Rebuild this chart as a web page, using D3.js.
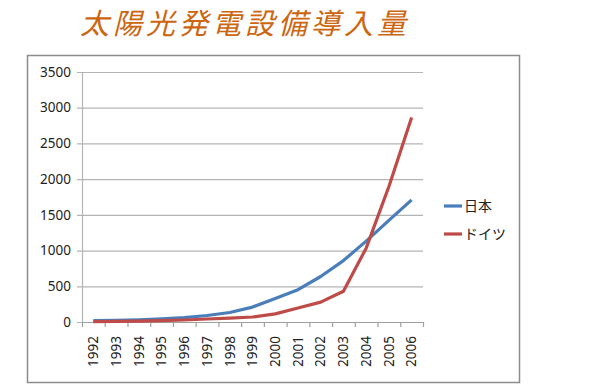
<!DOCTYPE html>
<html>
<head>
<meta charset="utf-8">
<script src="https://cdn.jsdelivr.net/npm/d3@7"></script>
<style>
body { margin: 0; background: #fff; }
svg { display: block; }
</style>
</head>
<body>
<div id="chart"></div>
<script>
// data
var years = ["1992","1993","1994","1995","1996","1997","1998","1999","2000","2001","2002","2003","2004","2005","2006"];
var japan = [19, 24, 31, 43, 60, 91, 133, 209, 330, 453, 637, 860, 1132, 1422, 1709];
var germany = [6, 9, 12, 18, 28, 42, 54, 70, 114, 195, 278, 431, 1034, 1897, 2863];
var yTicks = [0, 500, 1000, 1500, 2000, 2500, 3000, 3500];
var seriesNames = ["日本", "ドイツ"];
var colors = ["#4a7ebb", "#be4b48"];

var svg = d3.select("#chart")
  .append("svg")
    .attr("width", 600)
    .attr("height", 390);

// title
svg.append("text")
  .attr("x", 80)
  .attr("y", 34)
  .attr("font-family", "Noto Sans CJK JP")
  .attr("font-size", 29)
  .attr("font-style", "italic")
  .attr("letter-spacing", 4)
  .attr("fill", "#cc6610")
  .text("太陽光発電設備導入量");

// outer border of the chart area
svg.append("rect")
  .attr("x", 27.5)
  .attr("y", 55.5)
  .attr("width", 492)
  .attr("height", 327)
  .attr("fill", "none")
  .attr("stroke", "#8c8c8c")
  .attr("stroke-width", 1.5);

var margin = {left: 82, top: 72},
    width = 341,
    height = 250;

var g = svg.append("g")
  .attr("transform", "translate(" + margin.left + "," + margin.top + ")");

var x = d3.scaleBand()
  .domain(years)
  .range([0, width]);

var y = d3.scaleLinear()
  .domain([0, 3500])
  .range([height, 0]);

// gridlines
g.selectAll("line.grid")
  .data(yTicks)
  .enter().append("line")
    .attr("class", "grid")
    .attr("x1", -5)
    .attr("x2", width)
    .attr("y1", function(d){ return y(d) + 0.5; })
    .attr("y2", function(d){ return y(d) + 0.5; })
    .attr("stroke", "#b4b4b4")
    .attr("stroke-width", 1.2);

// y axis line
g.append("line")
  .attr("x1", 0.5).attr("x2", 0.5)
  .attr("y1", 0).attr("y2", height)
  .attr("stroke", "#b4b4b4")
  .attr("stroke-width", 1.2);

// y labels
g.selectAll("text.ylab")
  .data(yTicks)
  .enter().append("text")
    .attr("class", "ylab")
    .attr("x", -11)
    .attr("y", function(d){ return y(d); })
    .attr("dy", "0.35em")
    .attr("text-anchor", "end")
    .attr("font-family", "Noto Sans")
    .attr("font-size", 13.5)
    .attr("fill", "#222")
    .text(function(d){ return d; });

// x axis with tick marks at band edges
var xAxis = g.append("g")
  .attr("transform", "translate(0," + height + ")");
xAxis.append("line")
  .attr("x1", 0).attr("x2", width)
  .attr("y1", 0.5).attr("y2", 0.5)
  .attr("stroke", "#a0a0a0")
  .attr("stroke-width", 1.2);
var edges = years.map(function(d){ return x(d); }).concat([width]);
xAxis.selectAll("line.tick")
  .data(edges)
  .enter().append("line")
    .attr("class", "tick")
    .attr("x1", function(d){ return d + 0.5; })
    .attr("x2", function(d){ return d + 0.5; })
    .attr("y1", 0).attr("y2", 5)
    .attr("stroke", "#a0a0a0")
    .attr("stroke-width", 1.2);
xAxis.selectAll("text")
  .data(years)
  .enter().append("text")
    .attr("transform", function(d){
      return "translate(" + (x(d) + x.bandwidth() / 2) + ",14) rotate(-90)";
    })
    .attr("text-anchor", "end")
    .attr("dy", "0.35em")
    .attr("font-family", "Noto Sans")
    .attr("font-size", 13.5)
    .attr("fill", "#222")
    .text(function(d){ return d; });

// lines
var line = d3.line()
  .x(function(d, i){ return x(years[i]) + x.bandwidth() / 2; })
  .y(function(d){ return y(d); });

[japan, germany].forEach(function(s, i){
  g.append("path")
    .datum(s)
    .attr("fill", "none")
    .attr("stroke", colors[i])
    .attr("stroke-width", 3.2)
    .attr("stroke-linejoin", "round")
    .attr("d", line);
});

// legend
var legend = svg.selectAll("g.legend")
  .data(seriesNames)
  .enter().append("g")
    .attr("class", "legend")
    .attr("transform", function(d, i){ return "translate(444," + (206 + i * 28) + ")"; });
legend.append("line")
  .attr("x1", 0).attr("x2", 18)
  .attr("stroke", function(d, i){ return colors[i]; })
  .attr("stroke-width", 3.2);
legend.append("text")
  .attr("x", 20)
  .attr("dy", "0.35em")
  .attr("font-family", "Noto Sans CJK JP")
  .attr("font-size", 14)
  .attr("fill", "#222")
  .text(function(d){ return d; });
</script>
</body>
</html>
